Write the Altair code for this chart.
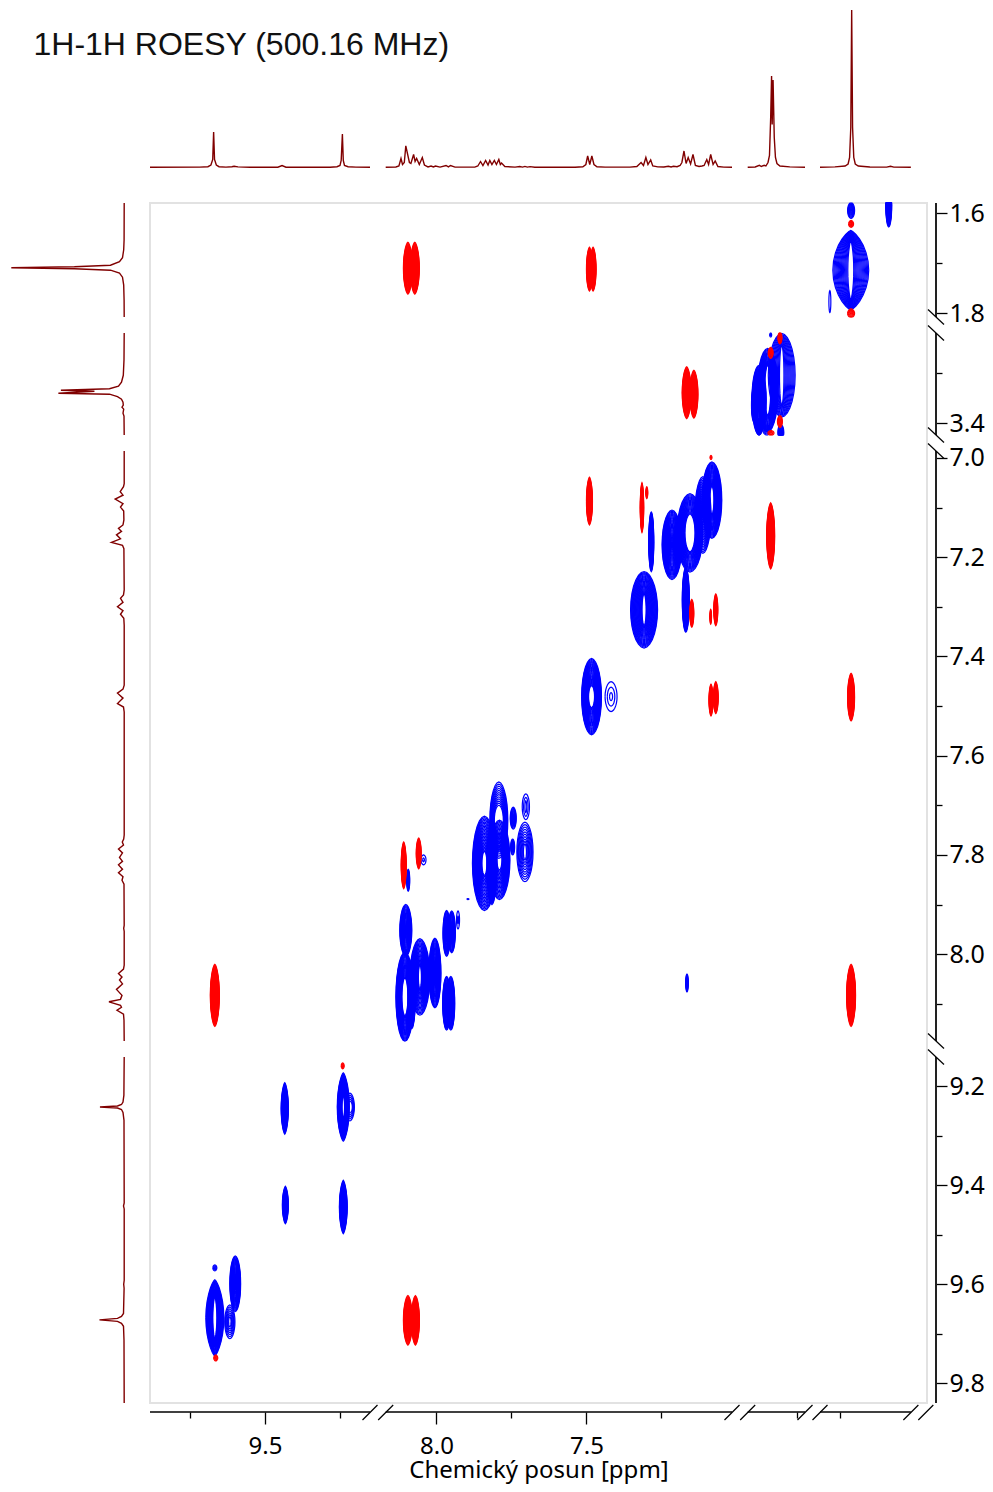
import numpy as np
import pandas as pd
import altair as alt

TITLE = "1H-1H ROESY (500.16 MHz)"
X_TITLE = "Chemický posun [ppm]"
INK = "#000000"
TRACE = "#800000"
LABEL_FONT = "Noto Sans"

# broken axes: ppm limits of each piece and where it lands in the plot
x_domain = [9.883, 9.15, 8.169, 7.015, 3.414, 3.222, 1.816, 1.458]
x_range = [0, 220, 235.7, 582, 597.7, 655, 670, 777]
y_domain = [1.579, 1.808, 3.219, 3.424, 6.986, 8.175, 9.141, 9.84]
y_range = [0, 114, 130, 232, 248, 838, 854, 1200]
x_major = [9.5, 8.0, 7.5]
x_minor = [9.75, 9.25, 7.75, 7.25, 3.25, 1.75]
y_major = [1.6, 1.8, 3.4, 7.0, 7.2, 7.4, 7.6, 7.8, 8.0, 9.2, 9.4, 9.6, 9.8]
y_minor = [1.7, 3.3, 7.1, 7.3, 7.5, 7.7, 7.9, 8.1, 9.3, 9.5, 9.7]
x_axis_from = [9.883, 8.169, 3.414, 1.816]
x_axis_to = [9.15, 7.015, 3.222, 1.512]
y_axis_from = [1.579, 3.219, 6.986, 9.141]
y_axis_to = [1.808, 3.424, 8.175, 9.84]
x_breaks = [9.15, 8.169, 7.015, 3.414, 3.222, 1.816, 1.512, 1.462]
y_breaks = [1.808, 3.219, 3.424, 6.986, 8.175, 9.141]

# 1D trace on top: (ppm, intensity), one list per piece
top_1 = [(9.883, .3), (9.717, .4), (9.69, .8), (9.68, 2.5), (9.674, 8), (9.671, 35.5), (9.668, 8), (9.662, 2.5),
         (9.653, .8), (9.63, .4), (9.61, .7), (9.603, 1.2), (9.59, .6), (9.55, .3), (9.457, .3), (9.443, 2),
         (9.43, .3), (9.283, .3), (9.26, .8), (9.25, 2), (9.246, 7), (9.242, 33.5), (9.239, 7), (9.235, 2),
         (9.223, .8), (9.197, .4), (9.15, .3)]
top_2 = [(8.169, .3), (8.135, .5), (8.125, 1.5), (8.118, 9), (8.113, 3), (8.107, 5), (8.102, 21.7), (8.09, 5),
         (8.085, 4), (8.076, 13), (8.071, 6), (8.066, 9), (8.057, 3), (8.047, 10), (8.04, 2.5), (8.028, .6),
         (8.018, 1.5), (8.01, .5), (8.003, 1.5), (7.988, .4), (7.968, 2), (7.96, .6), (7.953, 2), (7.938, .4),
         (7.872, .4), (7.862, 1.5), (7.853, 6), (7.845, 2), (7.836, 7), (7.828, 2.5), (7.822, 7), (7.815, 3),
         (7.807, 7), (7.8, 3), (7.792, 8), (7.787, 3), (7.783, 4.5), (7.772, 1), (7.738, .4), (7.722, 1),
         (7.713, .4), (7.705, 1.1), (7.697, .4), (7.688, .9), (7.672, .3), (7.538, .3), (7.512, .8), (7.502, 3),
         (7.496, 11.5), (7.489, 3), (7.482, 11.5), (7.475, 3), (7.465, .8), (7.438, .4), (7.355, .4), (7.332, 1),
         (7.318, 5), (7.31, 2), (7.302, 10), (7.295, 3), (7.286, 7.5), (7.279, 1.5), (7.262, .6), (7.242, .5),
         (7.227, 1.2), (7.218, .5), (7.21, 1.2), (7.198, .8), (7.188, 2), (7.182, 5), (7.175, 16.5), (7.168, 4),
         (7.161, 10), (7.153, 3.5), (7.145, 13), (7.137, 2), (7.125, 1), (7.115, 1.5), (7.108, 2), (7.099, 8),
         (7.093, 3), (7.086, 13), (7.078, 3), (7.071, 6.5), (7.062, 1), (7.042, .4), (7.015, .3)]
top_3 = [(3.414, .3), (3.389, .5), (3.375, 2.2), (3.368, 1), (3.359, 2.2), (3.353, 1.5), (3.346, 5), (3.341, 12),
         (3.337, 50), (3.334, 91.5), (3.332, 43), (3.329, 87.5), (3.325, 30), (3.321, 10), (3.316, 4), (3.306, 1.5),
         (3.273, .6), (3.222, .3)]
top_4 = [(1.816, .3), (1.766, .6), (1.732, 1.5), (1.722, 3.5), (1.717, 10), (1.713, 40), (1.71, 157.5), (1.707, 40),
         (1.703, 10), (1.698, 3.5), (1.688, 1.5), (1.649, .5), (1.593, .4), (1.58, 1.2), (1.569, .4), (1.512, .3)]

# 1D trace on the left
left_1 = [(1.579, .3), (1.653, .4), (1.673, .8), (1.689, 2), (1.697, 5), (1.704, 14), (1.707, 50), (1.709, 113),
          (1.711, 50), (1.714, 14), (1.72, 5), (1.728, 2), (1.744, .8), (1.774, .4), (1.808, .3)]
left_2 = [(3.219, .3), (3.273, .5), (3.304, 1.2), (3.318, 3), (3.326, 6), (3.331, 15), (3.334, 63.5), (3.336, 30),
          (3.34, 66), (3.342, 15), (3.347, 7), (3.352, 3), (3.358, 1.5), (3.364, 1.2), (3.368, 2.5), (3.372, .8),
          (3.38, 1.5), (3.386, .5), (3.424, .3)]
left_3 = [(6.986, .3), (7.052, .3), (7.058, 1), (7.068, 4.3), (7.075, 1.5), (7.083, 9.3), (7.092, 1.5), (7.099, 4),
          (7.107, .8), (7.125, .6), (7.135, 1.5), (7.142, 6), (7.148, 3), (7.155, 8), (7.163, 4), (7.17, 13),
          (7.176, 2), (7.183, .6), (7.266, .3), (7.276, 1), (7.283, 4), (7.291, 1.5), (7.3, 7), (7.308, 1.5),
          (7.315, 4), (7.323, .7), (7.337, .3), (7.458, .3), (7.466, 1.5), (7.474, 7), (7.484, 1.5), (7.495, 7),
          (7.502, 1), (7.512, .3), (7.76, .3), (7.768, .8), (7.774, 2.2), (7.78, 1), (7.788, 6), (7.796, 2),
          (7.805, 5), (7.813, 2), (7.82, 6), (7.829, 2), (7.836, 6), (7.844, 1.5), (7.851, 2.5), (7.859, .5),
          (7.942, .3), (7.948, .8), (7.954, .3), (8.022, .3), (8.03, 1), (8.039, 6), (8.046, 2.5), (8.052, 5),
          (8.06, 2), (8.071, 8), (8.083, 2.5), (8.091, 4), (8.096, 15.5), (8.103, 4), (8.107, 3), (8.113, 7.5),
          (8.121, 1), (8.133, .5), (8.175, .3)]
left_4 = [(9.141, .3), (9.218, .6), (9.232, 1.5), (9.237, 3), (9.24, 7), (9.242, 24.5), (9.244, 7), (9.247, 3),
          (9.253, 1.5), (9.269, .5), (9.436, .3), (9.442, 1), (9.448, .3), (9.592, .3), (9.6, .8), (9.608, .4),
          (9.659, 1), (9.665, 3), (9.669, 7), (9.672, 25), (9.675, 7), (9.679, 3), (9.685, 1), (9.713, .5), (9.84, .3)]

# 2D peaks: F2 ppm, F1 ppm, half width, half height, then hole half width, hole half height,
# ring count (0 = dense) and outline sharpness
red_peaks = [
    (8.095, 1.710, .015, .052), (8.072, 1.710, .015, .052), (7.49, 1.712, .01, .044), (7.478, 1.712, .01, .044),
    (7.166, 3.339, .015, .052), (7.142, 3.342, .0135, .048), (7.49, 7.087, .01, .048), (7.315, 7.1, .0057, .05),
    (7.299, 7.07, .0033, .012), (3.337, 7.157, .0133, .0665), (7.149, 7.313, .0067, .028), (7.086, 7.32, .0027, .015),
    (7.069, 7.306, .0067, .032), (7.085, 6.999, .0033, .004), (7.085, 7.488, .0067, .032), (7.069, 7.483, .008, .032),
    (1.712, 7.482, .0117, .048), (8.109, 7.821, .0083, .047), (8.059, 7.797, .0083, .031), (9.667, 8.083, .015, .0625),
    (1.712, 8.083, .015, .0625), (8.095, 9.673, .015, .05), (8.07, 9.673, .0133, .05), (1.712, 1.621, .0083, .007),
    (1.712, 1.8006, .0117, .009), (3.337, 3.259, .0083, .011), (3.306, 3.397, .0083, .012), (3.336, 3.42, .01, .005),
    (3.306, 3.229, .0067, .012), (9.241, 9.159, .005, .006), (9.664, 9.749, .0067, .006),
]
blue_peaks = [
    (1.713, 1.714, .06, .08, .01, .06, 0, 1.5), (1.712, 1.594, .0117, .016, 0, 0, 0), (1.586, 1.583, .01, .044, 0, 0, 0),
    (1.783, 1.777, .0033, .022, 0, 0, 1),
    (3.376, 3.354, .024, .07, 0, 0, 0), (3.393, 3.364, .0083, .034, 0, 0, 0),
    (3.3, 3.304, .045, .084, .0075, .06, 0), (3.347, 3.334, .035, .084, .01, .05, 0),
    (3.303, 3.419, .01, .016, 0, 0, 0),
    (3.337, 3.223, .0033, .004, 0, 0, 0), (3.376, 3.41, .01, .014, 0, 0, 0), (3.35, 3.414, .013, .01, 0, 0, 0),
    (7.169, 7.286, .0117, .065, 0, 0, 0), (7.284, 7.169, .0083, .06, 0, 0, 0), (7.215, 7.175, .033, .07, 0, 0, 0),
    (7.112, 7.115, .027, .077, 0, 0, 24), (7.082, 7.085, .033, .077, .0067, .028, 0),
    (7.155, 7.151, .043, .079, .0167, .038, 0), (7.308, 7.306, .045, .077, .0067, .032, 0),
    (7.483, 7.481, .033, .077, .01, .022, 0), (7.418, 7.481, .02, .03, .005, .008, 3),
    (7.815, 7.82, .016, .08, 0, 0, 0),
    (7.792, 7.73, .03, .077, .015, .03, 12), (7.84, 7.817, .04, .095, .0083, .024, 26),
    (7.79, 7.81, .035, .08, .0083, .02, 24), (7.705, 7.794, .027, .06, .005, .016, 10),
    (7.702, 7.703, .012, .026, .003, .012, 3), (7.744, 7.726, .01, .022, 0, 0, 0), (7.746, 7.784, .0067, .016, 0, 0, 0),
    (7.895, 7.889, .0033, .001, 0, 0, 1), (8.094, 7.851, .005, .022, 0, 0, 0), (8.043, 7.81, .0083, .01, .003, .004, 2),
    (8.102, 7.952, .02, .052, 0, 0, 0), (8.082, 8.08, .012, .07, 0, 0, 0), (8.105, 8.086, .03, .09, .01, .038, 0),
    (8.055, 8.046, .033, .077, .005, .024, 22), (8.005, 8.038, .02, .07, 0, 0, 0),
    (7.966, 7.958, .012, .046, 0, 0, 0), (7.949, 7.955, .012, .042, 0, 0, 0), (7.928, 7.931, .005, .018, .002, .008, 2),
    (7.966, 8.099, .013, .054, 0, 0, 0), (7.952, 8.099, .013, .054, 0, 0, 0), (7.165, 8.058, .0043, .018, 0, 0, 0),
    (9.434, 9.245, .012, .052, 0, 0, 0, 1.4), (9.239, 9.242, .02, .069, .0043, .024, 0, 1.4), (9.217, 9.242, .015, .028, .008, .012, 5),
    (9.432, 9.44, .01, .038, 0, 0, 0, 1.4), (9.239, 9.444, .013, .054, 0, 0, 0, 1.4),
    (9.667, 9.668, .03, .077, .0067, .044, 0, 1.5), (9.599, 9.599, .018, .056, 0, 0, 0),
    (9.617, 9.676, .017, .034, .004, .01, 7), (9.667, 9.567, .0067, .006, 0, 0, 0),
]


def piece(value, edges):
    for a, b in zip(edges[0], edges[1]):
        if min(a, b) <= value <= max(a, b):
            return min(a, b), max(a, b)
    return value - 9, value + 9


x_pieces = (x_domain[0::2], x_domain[1::2])
y_pieces = (y_domain[0::2], y_domain[1::2])


def contour_rings(peaks):
    """Outline each peak from its own read-off width and height; every vertex goes through the ppm scales."""
    angle = np.arange(0, 29) * (2 * np.pi / 28)
    frames = []
    ring_id = 0
    for p in peaks:
        cx, cy, rx, ry = p[:4]
        hx, hy, count = p[4:7] if len(p) > 4 else (0, 0, 0)
        sharp = p[7] if len(p) > 7 else (1.25 if len(p) == 4 else 1.05)
        n = count or int(max((rx - hx) * 300.0, (ry - hy) * 497.0) / 1.1) + 2
        x0, x1 = piece(cx, x_pieces)
        y0, y1 = piece(cy, y_pieces)
        for k in range(n):
            f = k / max(n - 1, 1)
            wx = rx + (hx - rx) * f
            wy = ry + (hy - ry) * f
            xs = cx + wx * np.sign(np.cos(angle)) * np.abs(np.cos(angle)) ** sharp
            ys = cy + wy * np.sin(angle)
            frames.append(pd.DataFrame({"x": np.clip(xs, x0, x1), "y": np.clip(ys, y0, y1),
                                        "ring": ring_id, "i": np.arange(29)}))
            ring_id += 1
    return pd.concat(frames, ignore_index=True).round(4)


def trace_table(pieces):
    rows = []
    for s, pts in enumerate(pieces):
        for i, (ppm, h) in enumerate(pts):
            rows.append({"ppm": ppm, "h": h, "seg": s, "i": i})
    return pd.DataFrame(rows)


X = alt.Scale(domain=x_domain, range=x_range, zero=False, nice=False)
Y = alt.Scale(domain=y_domain, range=y_range, zero=False, nice=False)
TOP = alt.Scale(domain=[0, 157.5], range=[-35.5, -193], zero=False, nice=False)
LEFT = alt.Scale(domain=[0, 113], range=[-25.5, -138.7], zero=False, nice=False)

x_axis = alt.Axis(values=x_major, format=".1f", orient="bottom", offset=9, grid=False, domain=False,
                  tickSize=12, tickWidth=1.3, tickColor=INK, labelFont=LABEL_FONT, labelFontSize=24,
                  labelColor=INK, labelPadding=10, title=X_TITLE, titleFont=LABEL_FONT, titleFontSize=24,
                  titleFontWeight="normal", titleColor=INK, titlePadding=0)
y_axis = alt.Axis(values=y_major, format=".1f", orient="right", offset=9, grid=False, domain=False,
                  tickSize=11, tickWidth=1.3, tickColor=INK, labelFont=LABEL_FONT, labelFontSize=25,
                  labelColor=INK, labelPadding=2, title=None)
x_axis_minor = alt.Axis(values=x_minor, orient="bottom", offset=9, grid=False, domain=False, labels=False,
                        tickSize=6, tickWidth=1.3, tickColor=INK, title=None)
y_axis_minor = alt.Axis(values=y_minor, orient="right", offset=9, grid=False, domain=False, labels=False,
                        tickSize=6, tickWidth=1.3, tickColor=INK, title=None)

blue = alt.Chart(contour_rings(blue_peaks)).mark_line(color="#0000ff", strokeWidth=1.2, interpolate="linear").encode(
    x=alt.X("x:Q", scale=X, axis=x_axis), y=alt.Y("y:Q", scale=Y, axis=y_axis),
    detail="ring:N", order="i:Q")
red = alt.Chart(contour_rings(red_peaks)).mark_line(color="#ff0000", strokeWidth=1.2).encode(
    x=alt.X("x:Q", scale=X, axis=None), y=alt.Y("y:Q", scale=Y, axis=None),
    detail="ring:N", order="i:Q")

minor = alt.Chart(pd.DataFrame({"x": [x_minor[0]], "y": [y_minor[0]]})).mark_point(opacity=0).encode(
    x=alt.X("x:Q", scale=X, axis=x_axis_minor), y=alt.Y("y:Q", scale=Y, axis=y_axis_minor))

top_trace = alt.Chart(trace_table([top_1, top_2, top_3, top_4])).mark_line(color=TRACE, strokeWidth=1.4).encode(
    x=alt.X("ppm:Q", scale=X, axis=None), y=alt.Y("h:Q", scale=TOP, axis=None),
    detail="seg:N", order="i:Q")
left_trace = alt.Chart(trace_table([left_1, left_2, left_3, left_4])).mark_line(color=TRACE, strokeWidth=1.4).encode(
    x=alt.X("h:Q", scale=LEFT, axis=None), y=alt.Y("ppm:Q", scale=Y, axis=None),
    detail="seg:N", order="i:Q")

x_line = alt.Chart(pd.DataFrame({"a": x_axis_from, "b": x_axis_to})).mark_rule(color=INK, strokeWidth=1.5).encode(
    x=alt.X("a:Q", scale=X, axis=None), x2="b:Q", y=alt.value(1209))
y_line = alt.Chart(pd.DataFrame({"a": y_axis_from, "b": y_axis_to})).mark_rule(color="#222222", strokeWidth=2).encode(
    y=alt.Y("a:Q", scale=Y, axis=None), y2="b:Q", x=alt.value(786))
x_slash = alt.Chart(pd.DataFrame({"p": x_breaks})).mark_rule(color=INK, strokeWidth=1.2, xOffset=-7.5, x2Offset=7.5).encode(
    x=alt.X("p:Q", scale=X, axis=None), x2="p:Q", y=alt.value(1217), y2=alt.value(1202))
y_slash = alt.Chart(pd.DataFrame({"p": y_breaks})).mark_rule(color=INK, strokeWidth=1.2, yOffset=-7.5, y2Offset=7.5).encode(
    y=alt.Y("p:Q", scale=Y, axis=None), y2="p:Q", x=alt.value(778), x2=alt.value(794))

title = alt.Chart(pd.DataFrame({"t": [TITLE]})).mark_text(
    align="left", baseline="alphabetic", font="Liberation Sans", fontSize=32, color="#111111").encode(
    text="t:N", x=alt.value(-116.5), y=alt.value(-148.5))

chart = alt.layer(blue, red, minor, top_trace, left_trace, x_line, y_line, x_slash, y_slash, title).resolve_scale(
    x="independent", y="independent"
).properties(
    width=777, height=1200,
    padding={"left": 142, "top": 195, "right": 58, "bottom": 81},
    autosize=alt.AutoSizeParams(type="none"),
    background="white",
).configure_view(stroke="#e2e2e2", strokeWidth=2)

chart.save("out.html", embed_options={"renderer": "svg", "actions": False})
